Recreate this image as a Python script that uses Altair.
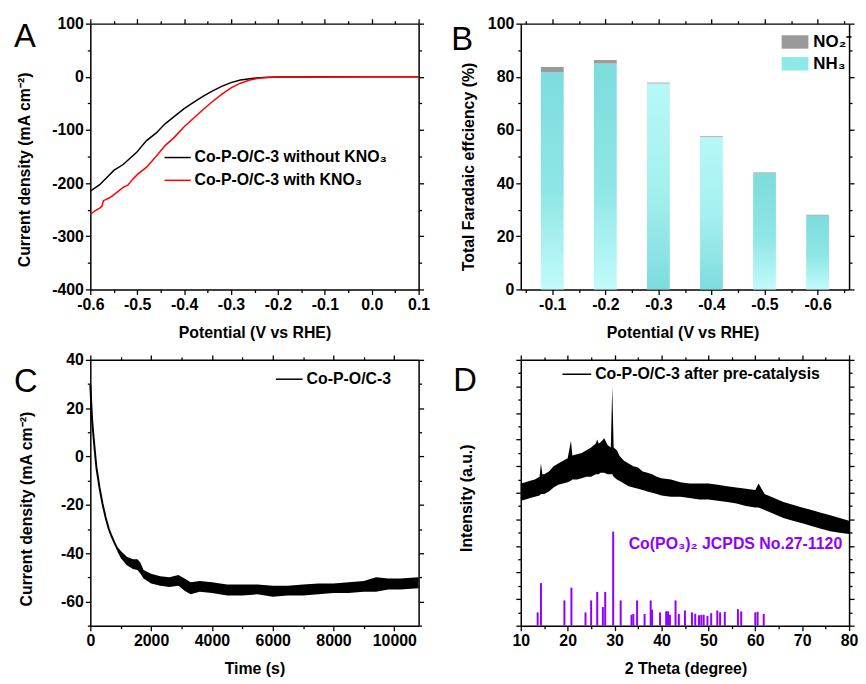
import altair as alt
import pandas as pd

FONT = "Liberation Sans"

# ---------------- Panel A : LSV curves ----------------
a_black_pot = [-0.6, -0.58, -0.56, -0.55, -0.53, -0.5, -0.49, -0.48, -0.46, -0.44, -0.42, -0.4,
               -0.38, -0.36, -0.34, -0.32, -0.3, -0.28, -0.26, -0.24, -0.22, -0.2, -0.15, -0.1, 0.0, 0.1]
a_black_j = [-215, -203, -185, -176, -165, -141, -130, -120, -106, -88, -74, -60,
             -48, -37, -27, -18, -11, -6, -3.5, -1.8, -0.8, -0.4, -0.2, 0, 0, 0]
a_red_pot = [-0.6, -0.59, -0.58, -0.575, -0.572, -0.56, -0.55, -0.53, -0.52, -0.51, -0.5, -0.48,
             -0.46, -0.44, -0.42, -0.4, -0.38, -0.36, -0.34, -0.32, -0.3, -0.28, -0.26, -0.24,
             -0.22, -0.2, -0.15, -0.1, 0.0, 0.1]
a_red_j = [-259, -252, -247, -243, -233, -228, -222, -208, -204, -193, -184, -170,
           -150, -129, -113, -94, -78, -62, -47, -33, -21, -12, -6, -2.5,
           -1.2, -0.6, -0.3, -0.2, -0.1, 0]
a_series = ["Co-P-O/C-3 without KNO₃", "Co-P-O/C-3 with KNO₃"]
a_x_ticks = [-0.6, -0.55, -0.5, -0.45, -0.4, -0.35, -0.3, -0.25, -0.2, -0.15, -0.1, -0.05, 0.0, 0.05, 0.1]
a_y_ticks = [-400, -350, -300, -250, -200, -150, -100, -50, 0, 50, 100]

# ---------------- Panel B : Faradaic efficiency ----------------
b_pot = [-0.1, -0.2, -0.3, -0.4, -0.5, -0.6]
b_nh3 = [81.7, 85.0, 77.5, 57.3, 43.7, 27.8]
b_no2 = [2.0, 1.3, 0.3, 0.3, 0.3, 0.3]
b_species = ["NO₂⁻", "NH₃"]
b_x_ticks = [-0.05, -0.1, -0.15, -0.2, -0.25, -0.3, -0.35, -0.4, -0.45, -0.5, -0.55, -0.6, -0.65]
b_y_ticks = [0, 10, 20, 30, 40, 50, 60, 70, 80, 90, 100]

# ---------------- Panel C : chronoamperometry ----------------
c_t = [0, 30, 60, 100, 150, 200, 300, 400, 500, 600, 700, 800, 900, 1000]
c_j = [29.6, 22, 15, 9, 2, -4.5, -12.7, -19.5, -25, -29.7, -33, -35.8, -38.5, -40.5]
c_band_t = [900, 1000, 1200, 1400, 1550, 1650, 1750, 2000, 2300, 2600, 2900, 3100, 3300, 3600,
            4000, 4500, 5000, 5500, 6000, 6500, 7000, 7500, 8000, 8500, 9000, 9400, 9800, 10200, 10800]
c_band_hi = [-37.5, -39, -41.5, -42.5, -42.5, -44, -47, -48.5, -49.5, -50, -49, -50.5, -52, -51.5,
             -52, -53, -53, -53, -53.5, -53.5, -53, -52.5, -52.5, -52, -51.5, -50, -50.5, -50.5, -50]
c_band_lo = [-39.5, -42, -45, -46.5, -47, -48.5, -50.5, -52.5, -53.5, -54, -53.5, -55.5, -57, -56,
             -56.5, -57.5, -57.5, -57, -58, -57.5, -57.5, -57, -56.5, -56.5, -56, -56, -55, -55, -54.5]
c_series = ["Co-P-O/C-3"]
c_x_ticks = [0, 1000, 2000, 3000, 4000, 5000, 6000, 7000, 8000, 9000, 10000]
c_y_ticks = [-70, -60, -50, -40, -30, -20, -10, 0, 10, 20, 30, 40]

# ---------------- Panel D : XRD ----------------
d_x = [10, 11, 12, 13, 14, 14.3, 14.6, 15, 16, 17, 18, 19, 20, 20.7, 21, 22, 23, 24, 25, 26,
       26.3, 26.6, 27, 27.8, 28.5, 29.2, 29.5, 29.8, 30.5, 31, 32, 33, 34, 35, 36, 37, 38, 39, 40,
       42, 44, 46, 48, 50, 52, 54, 56, 58, 60, 60.7, 62, 64, 66, 68, 70, 72, 74, 76, 78, 80]
d_hi = [53.5, 54, 54.5, 55, 56, 61, 57, 57, 58, 60, 61, 62, 63, 69.6, 64, 64.5, 65, 66, 67, 68.5,
        70, 68.5, 69, 70.5, 68, 67, 90, 67, 66, 64, 62, 61, 60, 59.5, 58, 57.5, 57, 56, 55.5,
        55, 54, 53.5, 53.5, 53.5, 53, 52.5, 52, 51.5, 51, 53.5, 49.5, 48, 46.5, 45.5, 44.5, 43.5, 42.5, 41.5, 40.5, 39.5]
d_lo = [47, 47.5, 48, 48.5, 49, 49.5, 49.5, 49.5, 50.5, 52, 53, 53.5, 54, 54.5, 55, 55, 55.5, 56, 56, 57,
        57, 57, 57.5, 57.5, 57, 57, 57, 56, 55, 54.5, 53.5, 52.5, 52, 51.5, 51, 50.5, 50, 49.5, 49,
        48.5, 48.5, 48, 47.5, 47.5, 47, 46.5, 46, 45, 44.5, 44.5, 43.5, 42, 40.5, 39.5, 38.5, 37.5, 36.5, 35.5, 35, 34.5]
d_stick_pos = [13.6, 14.3, 19.3, 20.8, 23.8, 25.0, 26.3, 27.5, 28.0, 29.7, 31.3, 33.6, 34.0, 34.8,
               36.4, 37.7, 38.0, 39.7, 41.0, 41.4, 41.8, 43.0, 43.7, 45.0, 46.5, 47.2, 48.0, 48.5,
               49.0, 49.8, 50.6, 51.9, 52.5, 53.5, 56.3, 57.0, 60.0, 60.5, 61.8]
d_stick_h = [5.0, 16.0, 9.5, 14.3, 5.0, 9.5, 12.7, 7.0, 12.7, 35.4, 9.5, 4.1, 4.4, 9.5,
             4.4, 9.5, 6.0, 5.0, 5.4, 5.4, 4.1, 9.5, 4.4, 5.7, 5.0, 4.5, 3.9, 4.1,
             4.1, 3.7, 4.7, 5.7, 5.0, 5.2, 6.2, 5.4, 5.0, 5.2, 4.4]
d_series = ["Co-P-O/C-3 after pre-catalysis"]
d_ref_label = ["Co(PO₃)₂ JCPDS No.27-1120"]
d_ref_label_pos = [33.0, 28.8]
d_x_ticks = [10, 15, 20, 25, 30, 35, 40, 45, 50, 55, 60, 65, 70, 75, 80]
d_y_ticks = [0, 5, 10, 15, 20, 25, 30, 35, 40, 45, 50, 55, 60, 65, 70, 75, 80, 85, 90, 95, 100]

W, H = 331, 268
PURPLE = "#8f00ff"


def ax(orient, values, major, fmt=None, title=None, tx=None, ty=None, labels=True):
    kw = dict(orient=orient, values=values, grid=False, labelFlush=False,
              tickSize={"condition": {"test": major, "value": 5}, "value": 3})
    if labels:
        kw["labelExpr"] = "(" + major + ") ? replace(datum.label, '\u2212', '-') : ''"
        if fmt:
            kw["format"] = fmt
    else:
        kw["labels"] = False
    if title:
        kw["title"] = title
        kw["titleX"] = tx
        kw["titleY"] = ty
        kw["titleAlign"] = "center"
        if orient in ("left", "right"):
            kw["titleAngle"] = -90
            kw["titleBaseline"] = "middle"
        else:
            kw["titleAngle"] = 0
            kw["titleBaseline"] = "alphabetic"
    else:
        kw["title"] = None
    return alt.Axis(**kw)


def letter(ch, dx, dy):
    return alt.Chart(pd.DataFrame({"t": [ch]})).mark_text(
        font=FONT, fontSize=33, fontWeight="normal", align="left", baseline="alphabetic", color="black"
    ).encode(x=alt.value(dx), y=alt.value(dy), text="t:N")


# ---------- Panel A ----------
dfa = pd.concat([
    pd.DataFrame({"pot": a_black_pot, "j": a_black_j, "sA": a_series[0]}),
    pd.DataFrame({"pot": a_red_pot, "j": a_red_j, "sA": a_series[1]}),
])
ax_major_a = "abs(round(datum.value*100)) % 10 == 0"
ay_major = "datum.value % 100 == 0"
xa = alt.Scale(domain=[-0.6, 0.1], nice=False, zero=False)
ya = alt.Scale(domain=[-400, 100], nice=False, zero=False)
lines_a = alt.Chart(dfa).mark_line(strokeWidth=1.5).encode(
    x=alt.X("pot:Q", scale=xa, axis=ax("bottom", a_x_ticks, ax_major_a, ".1f", "Potential (V vs RHE)", W / 2, 48)),
    y=alt.Y("j:Q", scale=ya, axis=ax("left", a_y_ticks, ay_major, "d", "Current density (mA cm⁻²)", -66, 147)),
    color=alt.Color("sA:N", scale=alt.Scale(domain=a_series, range=["black", "#ff0000"]),
                    legend=alt.Legend(orient="none", legendX=74, legendY=121, title=None, symbolType="stroke",
                                      symbolSize=700, symbolStrokeWidth=1.5, labelLimit=400, labelOffset=3,
                                      rowPadding=1, padding=0)),
    order=alt.Order("sA:N"),
)
frame_a = alt.Chart(dfa).mark_line(opacity=0).encode(
    x=alt.X("pot:Q", scale=xa, axis=ax("top", a_x_ticks, ax_major_a, labels=False)),
    y=alt.Y("j:Q", scale=ya, axis=ax("right", a_y_ticks, ay_major, labels=False)),
)
panel_a = alt.layer(lines_a, frame_a, letter("A", -77, 24)).resolve_axis(
    x="independent", y="independent").properties(width=W, height=H)

# ---------- Panel B ----------
dfb = pd.DataFrame({"pot": b_pot, "nh3": b_nh3, "no2": b_no2})
dfb["top"] = dfb["nh3"] + dfb["no2"]
dfb["sB"] = b_species[0]
DARK_TOP = [-0.1, -0.2, -0.5, -0.6]
dfb_dark = dfb[dfb["pot"].isin(DARK_TOP)]
dfb_light = dfb[~dfb["pot"].isin(DARK_TOP)]
bx_major = "abs(round(datum.value*100)) % 10 == 0"
by_major = "datum.value % 20 == 0"
xb = alt.Scale(domain=[-0.65, -0.05], reverse=True, nice=False, zero=False)
yb = alt.Scale(domain=[0, 100], nice=False)
grad_dark = alt.LinearGradient(gradient="linear", x1=0, x2=0, y1=0, y2=1, stops=[
    alt.GradientStop(offset=0, color="#7ddcdc"), alt.GradientStop(offset=0.55, color="#8fe6e6"),
    alt.GradientStop(offset=1, color="#c2fbfb")])
grad_light = alt.LinearGradient(gradient="linear", x1=0, x2=0, y1=0, y2=1, stops=[
    alt.GradientStop(offset=0, color="#b6f8f8"), alt.GradientStop(offset=0.5, color="#a6f0f0"),
    alt.GradientStop(offset=1, color="#7edcdc")])
bars_dark = alt.Chart(dfb_dark).mark_bar(size=23, color=grad_dark).encode(
    x=alt.X("pot:Q", scale=xb, axis=ax("bottom", b_x_ticks, bx_major, ".1f", "Potential (V vs RHE)", 163, 48)),
    y=alt.Y("nh3:Q", scale=yb, axis=ax("left", b_y_ticks, by_major, "d", "Total Faradaic effciency (%)", -53, 144)),
)
bars_light = alt.Chart(dfb_light).mark_bar(size=23, color=grad_light).encode(
    x=alt.X("pot:Q", scale=xb, axis=None),
    y=alt.Y("nh3:Q", scale=yb, axis=None),
)
bars_no2 = alt.Chart(dfb).mark_bar(size=23).encode(
    x=alt.X("pot:Q", scale=xb, axis=None),
    y=alt.Y("nh3:Q", scale=yb, axis=None),
    y2="top:Q",
    color=alt.Color("sB:N", scale=alt.Scale(domain=b_species, range=["#9a9a9a", "#8ee8e8"]),
                    legend=alt.Legend(orient="none", legendX=263, legendY=5, title=None,
                                      symbolType="M-1,-0.5H1V0.5H-1Z", symbolSize=729, symbolStrokeWidth=0,
                                      symbolOpacity=1, labelFontSize=17, labelLimit=200, labelOffset=5,
                                      rowPadding=0, padding=0)),
)
frame_b = alt.Chart(dfb).mark_bar(size=23, opacity=0).encode(
    x=alt.X("pot:Q", scale=xb, axis=ax("top", b_x_ticks, bx_major, labels=False)),
    y=alt.Y("nh3:Q", scale=yb, axis=ax("right", b_y_ticks, by_major, labels=False)),
)
panel_b = alt.layer(bars_dark, bars_light, bars_no2, frame_b, letter("B", -70, 27)).resolve_axis(
    x="independent", y="independent").properties(width=W, height=H)

# ---------- Panel C ----------
dfc = pd.DataFrame({"t": c_t, "j": c_j, "sC": c_series[0]})
dfc_band = pd.DataFrame({"t": c_band_t, "hi": c_band_hi, "lo": c_band_lo})
cx_major = "datum.value % 2000 == 0"
cy_major = "datum.value % 20 == 0"
xc = alt.Scale(domain=[0, 10800], nice=False)
yc = alt.Scale(domain=[-70, 40], nice=False)
line_c = alt.Chart(dfc).mark_line(strokeWidth=2).encode(
    x=alt.X("t:Q", scale=xc, axis=ax("bottom", c_x_ticks, cx_major, "d", "Time (s)", W / 2, 48)),
    y=alt.Y("j:Q", scale=yc, axis=ax("left", c_y_ticks, cy_major, "d", "Current density (mA cm⁻²)", -64, 150)),
    color=alt.Color("sC:N", scale=alt.Scale(domain=c_series, range=["black"]),
                    legend=alt.Legend(orient="none", legendX=186, legendY=5, title=None, symbolType="stroke",
                                      symbolSize=729, symbolStrokeWidth=1.5, labelLimit=300, labelOffset=3,
                                      padding=0)),
)
band_c = alt.Chart(dfc_band).mark_area(color="black", opacity=1).encode(
    x=alt.X("t:Q", scale=xc, axis=None),
    y=alt.Y("hi:Q", scale=yc, axis=None),
    y2="lo:Q",
)
frame_c = alt.Chart(dfc).mark_line(opacity=0).encode(
    x=alt.X("t:Q", scale=xc, axis=ax("top", c_x_ticks, cx_major, labels=False)),
    y=alt.Y("j:Q", scale=yc, axis=ax("right", c_y_ticks, cy_major, labels=False)),
)
panel_c = alt.layer(line_c, band_c, frame_c, letter("C", -77, 32)).resolve_axis(
    x="independent", y="independent").properties(width=W, height=H)

# ---------- Panel D ----------
dfd = pd.DataFrame({"x": d_x, "hi": d_hi, "lo": d_lo})
dfd_line = pd.DataFrame({"x": d_x, "hi": d_hi, "sD": d_series[0]})
dfs = pd.DataFrame({"pos": d_stick_pos, "h": d_stick_h})
dfl = pd.DataFrame({"x": [d_ref_label_pos[0]], "y": [d_ref_label_pos[1]], "t": d_ref_label})
dx_major = "datum.value % 10 == 0"
dy_major = "datum.value % 10 == 0"
xd = alt.Scale(domain=[10, 80], nice=False, zero=False)
yd = alt.Scale(domain=[0, 100], nice=False)
band_d = alt.Chart(dfd).mark_area(color="black", opacity=1).encode(
    x=alt.X("x:Q", scale=xd, axis=ax("bottom", d_x_ticks, dx_major, "d", "2 Theta (degree)", 166, 48)),
    y=alt.Y("hi:Q", scale=yd, axis=ax("left", d_y_ticks, dy_major, title="Intensity (a.u.)", tx=-55, ty=139,
                                      labels=False)),
    y2="lo:Q",
)
legend_d = alt.Chart(dfd_line).mark_line(strokeWidth=1, opacity=0).encode(
    x=alt.X("x:Q", scale=xd, axis=None),
    y=alt.Y("hi:Q", scale=yd, axis=None),
    color=alt.Color("sD:N", scale=alt.Scale(domain=d_series, range=["black"]),
                    legend=alt.Legend(orient="none", legendX=41, legendY=-1, title=None, symbolType="stroke",
                                      symbolSize=841, symbolStrokeWidth=1.5, symbolOpacity=1, labelLimit=400,
                                      labelOffset=3, padding=0)),
)
sticks_d = alt.Chart(dfs).mark_rule(color=PURPLE, strokeWidth=2).encode(
    x=alt.X("pos:Q", scale=xd, axis=None),
    y=alt.Y("h:Q", scale=yd, axis=None),
    y2=alt.datum(0),
)
label_d = alt.Chart(dfl).mark_text(font=FONT, fontSize=16, fontWeight="bold", color=PURPLE,
                                   align="left", baseline="alphabetic").encode(
    x=alt.X("x:Q", scale=xd, axis=None),
    y=alt.Y("y:Q", scale=yd, axis=None),
    text="t:N",
)
frame_d = alt.Chart(dfd).mark_point(opacity=0).encode(
    x=alt.X("x:Q", scale=xd, axis=ax("top", d_x_ticks, dx_major, labels=False)),
    y=alt.Y("hi:Q", scale=yd, axis=ax("right", d_y_ticks, dy_major, labels=False)),
)
panel_d = alt.layer(band_d, legend_d, sticks_d, label_d, frame_d, letter("D", -68, 31)).resolve_axis(
    x="independent", y="independent").properties(width=W, height=H)

chart = alt.concat(panel_a, panel_b, panel_c, panel_d, columns=2,
                   spacing={"row": 71, "column": 103}, bounds="flush").resolve_scale(
    color="independent").properties(
    padding={"left": 6, "top": 5, "right": 0, "bottom": 0}
).configure_view(stroke=None).configure_axis(
    labelFont=FONT, labelFontSize=16, labelFontWeight="bold", labelColor="black", labelPadding=2,
    labelOverlap=False, labelFlush=False, titleFont=FONT, titleFontSize=16, titleFontWeight="bold",
    titleColor="black", domainColor="black", domainWidth=1.5, tickColor="black", tickWidth=1.3, grid=False,
).configure_legend(
    labelFont=FONT, labelFontSize=16, labelFontWeight="bold", labelColor="black",
)

chart.save("out.html", embed_options={"renderer": "svg", "actions": False})
